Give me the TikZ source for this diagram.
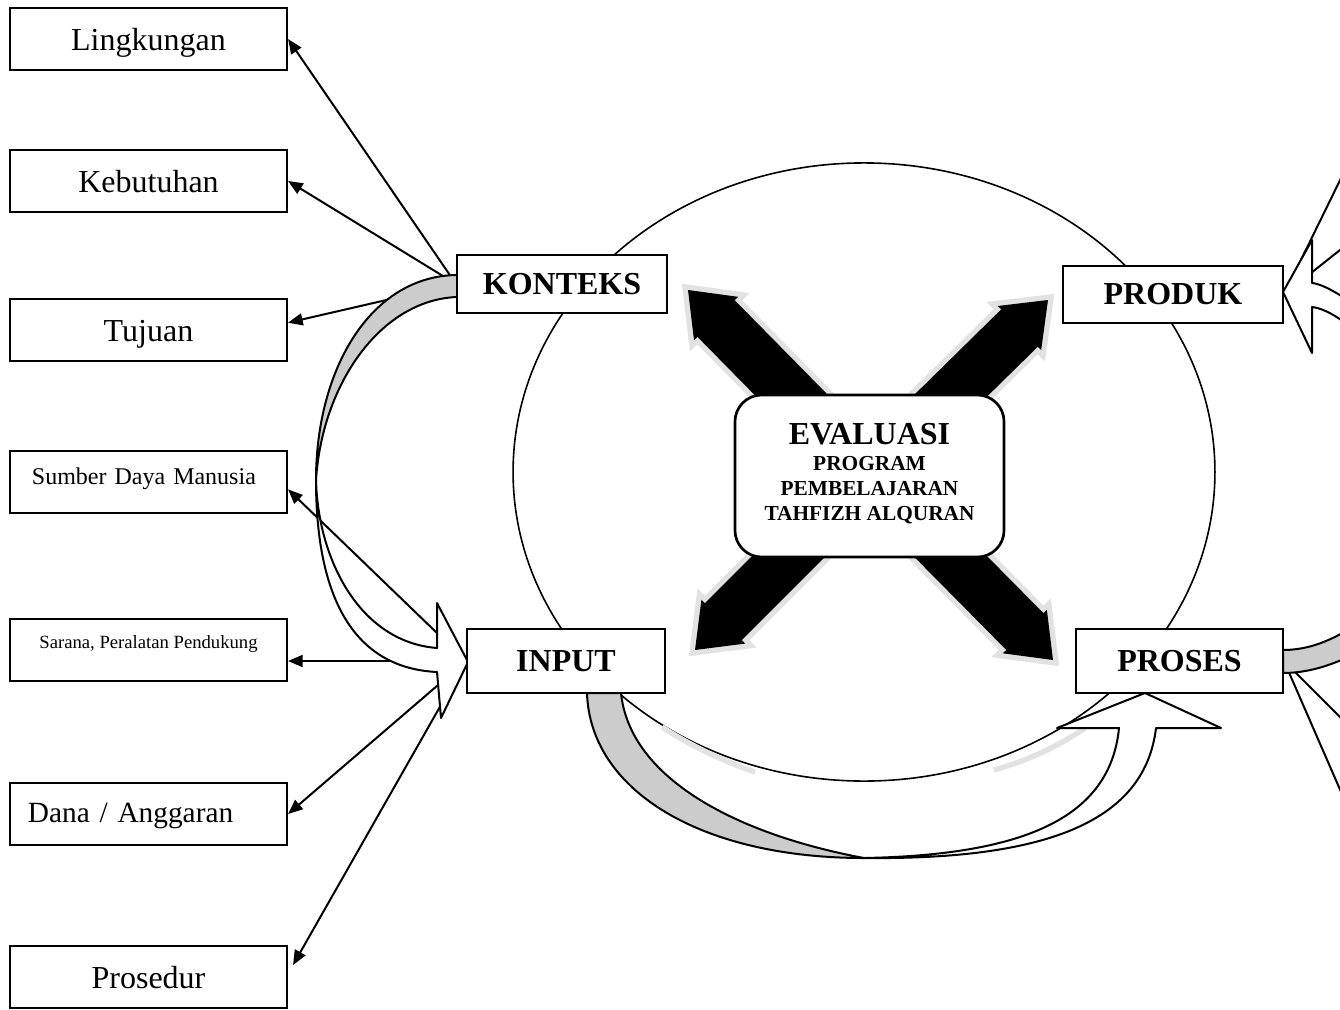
\documentclass[tikz,border=0pt]{standalone}
\usepackage{fontspec}
\setmainfont{Liberation Serif}
\usepackage{tikz}
\usetikzlibrary{arrows.meta,calc,shapes}
\definecolor{backgray}{RGB}{204,204,204}
\definecolor{halogray}{RGB}{226,226,226}
\tikzstyle{arrow} = [line width=0.75pt,-{Triangle[length=5.5pt,width=4.5pt]}]
\tikzstyle{link} = [line width=0.75pt]
\tikzstyle{sidebox} = [draw, line width=0.75pt, fill=white, inner sep=0pt, minimum width=103.9pt, minimum height=23.25pt, text height=11.1pt, text depth=2.5pt, font=\fontsize{12}{14}\selectfont]
\tikzstyle{stagebox} = [draw, line width=0.75pt, fill=white, inner sep=0pt, font=\fontsize{12}{14}\selectfont\bfseries]
\tikzstyle{curvedband} = [draw, line width=0.75pt, line join=round]
\tikzstyle{halo} = [draw=halogray, fill=halogray, line width=4pt]

\pgfdeclarelayer{back}
\pgfdeclarelayer{mid}
\pgfsetlayers{back,mid,main}

% one black arrow of the cross, from the centre (cx) to a tip
\newcommand{\crossshape}[1]{(#1) -- ($(h)!11.6pt!90:(cx)$) -- ($(h)!9.8pt!90:(cx)$) -- ($(cx)!9.8pt!270:(#1)$) -- ($(cx)!9.8pt!90:(#1)$) -- ($(h)!9.8pt!270:(cx)$) -- ($(h)!11.6pt!270:(cx)$) -- cycle}
\newcommand{\crossarrow}[1]{%
  \coordinate (h) at ($(#1)!15pt!(cx)$);
  \filldraw[halo] \crossshape{#1};
  \fill[black] \crossshape{#1};
}

\begin{document}
\begin{tikzpicture}[x=0.375pt, y=-0.375pt]
\useasboundingbox (0,0) rectangle (1340,1009);
\coordinate (cx) at (870,475);

% Left boxes
\node[sidebox] (ling) at (148.5,39) {Lingkungan};
\node[sidebox] (kebu) at (148.5,181) {Kebutuhan};
\node[sidebox] (tuju) at (148.5,330) {Tujuan};
\node[sidebox, font=\fontsize{9}{11}\selectfont, align=left, inner xsep=8.25pt, text width=87.4pt, text height=6.2pt, text depth=4.7pt] (sdm) at (148.5,482) {Sumber Daya Manusia};
\node[sidebox, font=\fontsize{7}{9}\selectfont, text height=4.8pt, text depth=6pt] (sarana) at (148.5,650) {Sarana, Peralatan Pendukung};
\node[sidebox, font=\fontsize{11}{13}\selectfont, align=left, inner xsep=6.75pt, text width=90.4pt, text height=9pt, text depth=2.4pt] (dana) at (148.5,814) {Dana / Anggaran};
\node[sidebox] (pros) at (148.5,977) {Prosedur};

% Stage boxes
\node[stagebox, minimum width=78.75pt, minimum height=21.75pt] (konteks) at (562,284) {KONTEKS};
\node[stagebox, minimum width=74.25pt, minimum height=24pt] (input) at (566,661) {INPUT};
\node[stagebox, minimum width=82.5pt, minimum height=21.4pt] (produk) at (1173,294.5) {PRODUK};
\node[stagebox, minimum width=77.6pt, minimum height=24pt] (proses) at (1179.5,661) {PROSES};

% Centre box
\node[draw, line width=1pt, fill=white, rounded corners=10pt, minimum width=100.9pt, minimum height=60.75pt, align=center, text depth=3pt, font=\fontsize{8}{9.4}\selectfont\bfseries] (eval) at (869.5,476) {{\fontsize{12}{14}\selectfont EVALUASI}\\PROGRAM\\PEMBELAJARAN\\TAHFIZH ALQURAN};

% Ellipse and cross
\begin{pgfonlayer}{back}
\fill[white] (0,0) rectangle (1340,1009);
\draw[line width=0.6pt] (864,472) ellipse [x radius=131.6pt, y radius=115.9pt];
\draw[halogray, line width=2pt] (662,727) .. controls (690,745) and (720,760) .. (755,772);
\draw[halogray, line width=2pt] (994,770) .. controls (1030,760) and (1060,745) .. (1085,728);
\coordinate (nw) at (688,290);
\coordinate (ne) at (1048,300);
\coordinate (sw) at (695,650);
\coordinate (se) at (1053,660);
\crossarrow{nw}
\crossarrow{ne}
\crossarrow{sw}
\crossarrow{se}
\end{pgfonlayer}

\begin{pgfonlayer}{mid}
\begin{scope}
\clip (0,0) rectangle (1340,1009);
% Konteks
\draw[arrow] (konteks.west) -- (ling.east);
\draw[arrow] (konteks.west) -- (kebu.east);
\draw[arrow] (konteks.west) -- (tuju.3);
% Input
\draw[arrow] (input.west) -- (sdm.-3);
\draw[arrow] (input.west) -- (input.west -| sarana.east);
\draw[arrow] (input.west) -- (dana.east);
\draw[arrow] (input.west) -- ($(pros.north east)+(5,20)$);
% Produk and proses, to the right edge
\coordinate (pd1) at (1345,170);
\coordinate (pd2) at (1345,246);
\coordinate (ps1) at (1345,722);
\coordinate (ps2) at (1345,801);
\draw[link] (produk.east) -- (pd1);
\draw[link] (produk.east) -- (pd2);
\draw[link] (proses.east) -- (ps1);
\draw[link] (proses.east) -- (ps2);

% Curved arrow konteks -> input
\filldraw[curvedband, fill=white] (316,480) .. controls (318,560) and (360,642) .. (437,648) -- (437,603) -- (468,662) -- (441,718) -- (437,672) .. controls (355,668) and (316,600) .. (316,480) -- cycle;
\filldraw[curvedband, fill=backgray] (457,275) .. controls (370,276) and (316,370) .. (316,480) .. controls (322,385) and (380,300) .. (457,297) -- cycle;

% Curved arrow input -> proses
\filldraw[curvedband, fill=white] (864,858) .. controls (1020,855) and (1110,820) .. (1119,728) -- (1057,728) -- (1145,693) -- (1221,728) -- (1156,728) .. controls (1145,820) and (1050,860) .. (864,858) -- cycle;
\filldraw[curvedband, fill=backgray] (587,693) .. controls (590,790) and (700,858) .. (864,858) .. controls (740,835) and (630,780) .. (621,693) -- cycle;

% Curved arrow proses -> produk
\filldraw[curvedband, fill=backgray] (1283,650) .. controls (1315,650) and (1345,635) .. (1375,610) -- (1385,635) .. controls (1350,660) and (1315,673) .. (1283,673) -- cycle;
\filldraw[curvedband, fill=white] (1283,292) -- (1312,240) -- (1312,283) .. controls (1328,285) and (1345,300) .. (1370,312) -- (1365,338) .. controls (1345,322) and (1328,309) .. (1312,307) -- (1312,353) -- cycle;
\end{scope}
\end{pgfonlayer}
\end{tikzpicture}
\end{document}
